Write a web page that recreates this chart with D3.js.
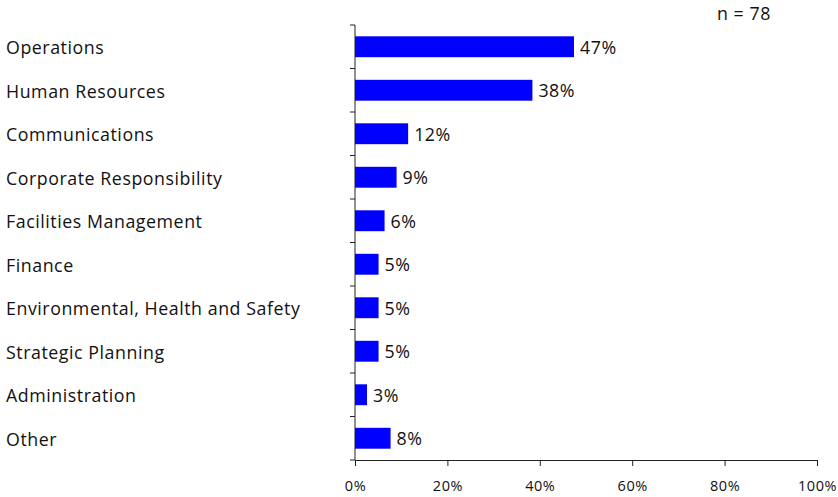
<!DOCTYPE html>
<html>
<head>
<meta charset="utf-8">
<script src="https://cdn.jsdelivr.net/npm/d3@7"></script>
<style>
  body { margin: 0; background: #fff; }
  text { font-family: "Open Sans", "Noto Sans", sans-serif; fill: #111; letter-spacing: 0.55px; }
</style>
</head>
<body>
<div id="chart-area"></div>
<script>
// DATA
var categories = ["Operations", "Human Resources", "Communications", "Corporate Responsibility",
    "Facilities Management", "Finance", "Environmental, Health and Safety", "Strategic Planning",
    "Administration", "Other"];
var values = [47.4, 38.4, 11.5, 9.0, 6.4, 5.1, 5.1, 5.1, 2.6, 7.7];   // percent of respondents
var xTicks = [0, 20, 40, 60, 80, 100];
var sampleNote = "n = 78";

var width = 838, height = 497;
var margin = { left: 355, right: 21, top: 25, bottom: 37 };

var svg = d3.select("#chart-area")
    .append("svg")
        .attr("width", width)
        .attr("height", height);

var g = svg.append("g")
    .attr("transform", "translate(" + margin.left + "," + margin.top + ")");

var innerW = width - margin.left - margin.right,
    innerH = height - margin.top - margin.bottom;

// SCALES
var x = d3.scaleLinear()
    .domain([0, 100])
    .range([0, innerW]);

var y = d3.scaleBand()
    .domain(categories)
    .range([0, innerH])
    .paddingInner(0.52)
    .paddingOuter(0.26);

// X AXIS
var xAxisCall = d3.axisBottom(x)
    .tickValues(xTicks)
    .tickSize(6)
    .tickPadding(15)
    .tickFormat(function(d) { return d + "%"; });
var xAxis = g.append("g")
    .attr("transform", "translate(0," + innerH + ")")
    .call(xAxisCall);
xAxis.select(".domain").attr("stroke", "#222");
xAxis.selectAll(".tick line").attr("stroke", "#222");
xAxis.selectAll(".tick text")
    .attr("font-size", "14.5px")
    .attr("font-family", "'Open Sans', 'Noto Sans', sans-serif")
    .attr("fill", "#111");

// Y AXIS (ticks at category boundaries)
var step = innerH / categories.length;
var yLine = g.append("g");
yLine.append("line")
    .attr("x1", 0).attr("x2", 0)
    .attr("y1", 0).attr("y2", innerH)
    .attr("stroke", "#222");
yLine.selectAll(".ytick")
    .data(d3.range(categories.length + 1))
    .enter().append("line")
        .attr("x1", -5).attr("x2", 0)
        .attr("y1", function(i) { return i * step; })
        .attr("y2", function(i) { return i * step; })
        .attr("stroke", "#222");

// BARS
g.selectAll("rect.bar")
    .data(values)
    .enter().append("rect")
        .attr("class", "bar")
        .attr("x", 0)
        .attr("y", function(d, i) { return y(categories[i]); })
        .attr("width", function(d) { return x(d); })
        .attr("height", y.bandwidth())
        .attr("fill", "#0000ff");

// VALUE LABELS
g.selectAll("text.val")
    .data(values)
    .enter().append("text")
        .attr("class", "val")
        .attr("x", function(d) { return x(d) + 6; })
        .attr("y", function(d, i) { return y(categories[i]) + y.bandwidth() / 2 + 7; })
        .attr("font-size", "17.8px")
        .text(function(d) { return Math.round(d) + "%"; });

// CATEGORY LABELS
svg.selectAll("text.cat")
    .data(categories)
    .enter().append("text")
        .attr("class", "cat")
        .attr("x", 6)
        .attr("y", function(d) { return margin.top + y(d) + y.bandwidth() / 2 + 7.5; })
        .attr("font-size", "17.8px")
        .text(function(d) { return d; });

// N NOTE
svg.append("text")
    .attr("x", 717)
    .attr("y", 20)
    .attr("font-size", "17.8px")
    .text(sampleNote);
</script>
</body>
</html>
